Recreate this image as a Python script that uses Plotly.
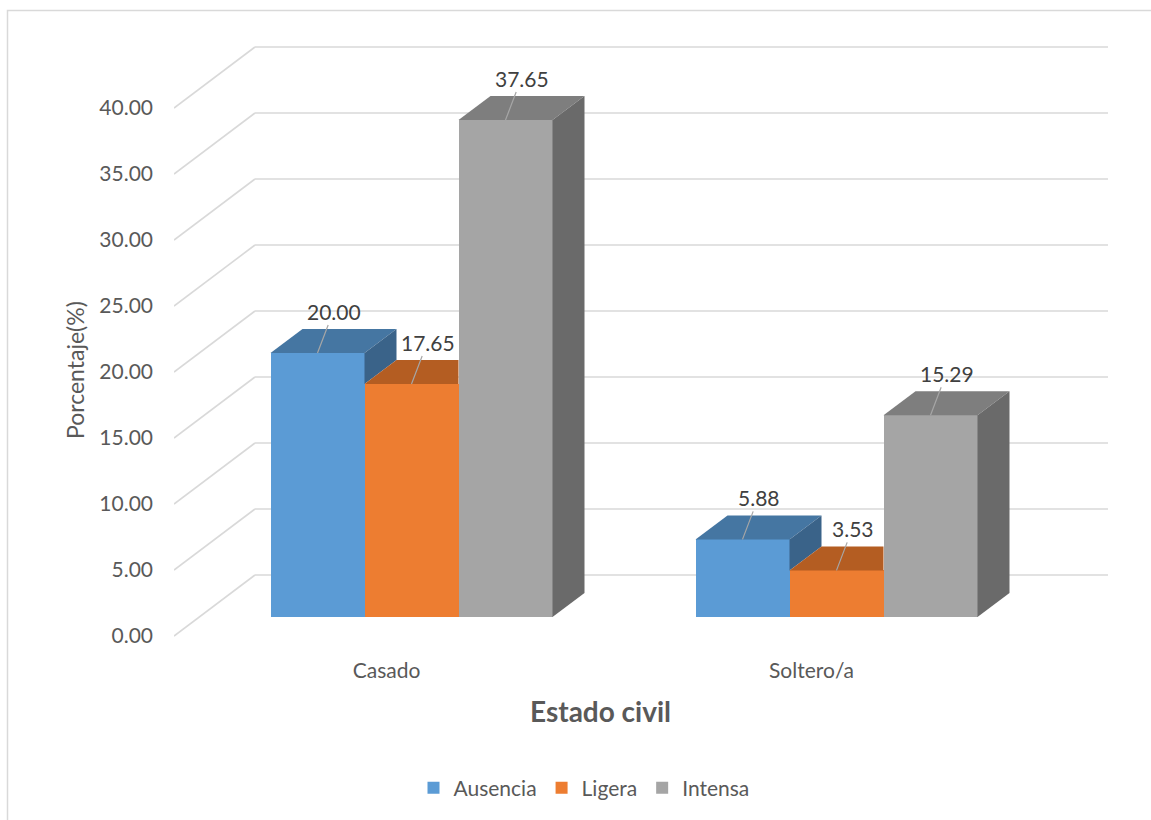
import plotly.graph_objects as go

# ---- data -------------------------------------------------------------
categories = ["Casado", "Soltero/a"]
series_names = ["Ausencia", "Ligera", "Intensa"]
ausencia = [20.00, 5.88]
ligera = [17.65, 3.53]
intensa = [37.65, 15.29]
y_ticks = [0, 5, 10, 15, 20, 25, 30, 35, 40]

series_values = [ausencia, ligera, intensa]

# ---- styling ----------------------------------------------------------
front_colors = ["#5B9BD5", "#ED7D31", "#A5A5A5"]
top_colors = ["#4576A2", "#B45D22", "#7E7E7E"]
side_colors = ["#3A6389", "#9E521E", "#6A6A6A"]
grid_color = "#D9D9D9"
text_color = "#595959"
label_color = "#404040"
FONT = "Lato"

W, H = 1151, 820
M_L, M_R, M_T, M_B = 174, 43, 42, 164
plot_w = W - M_L - M_R
plot_h = H - M_T - M_B

X_PX = 425.0   # pixels per category step
Y_PX = 13.2    # pixels per percentage point
x_min = -0.5
x_max = x_min + plot_w / X_PX
y_max = 45.0
y_min = y_max - plot_h / Y_PX


def dx(px):
    return px / X_PX


def dy(px):
    return px / Y_PX


def paper_x(px):
    return (px - M_L) / plot_w


def paper_y(py):
    return (H - M_B - py) / plot_h


# oblique projection of the depth axis
WALL_DX, WALL_DY = dx(81), dy(61)      # full floor depth
BAR_SHIFT_X, BASE = dx(25), dy(19)     # front face of the bars
BAR_DX, BAR_DY = dx(32), dy(24)        # bar thickness
BAR_W = dx(94)

fig = go.Figure()

# ---- front faces ------------------------------------------------------
bar_geom = []  # (left x, right x) per series per category
for i, (name, vals) in enumerate(zip(series_names, series_values)):
    xs = [c + BAR_SHIFT_X + (i - 1) * BAR_W for c in range(len(categories))]
    bar_geom.append([(x - BAR_W / 2, x + BAR_W / 2) for x in xs])
    fig.add_trace(go.Bar(
        x=xs, y=vals, base=BASE, width=BAR_W, name=name,
        marker=dict(color=front_colors[i], line=dict(width=0)),
        hoverinfo="skip",
    ))


def add_face(xs, ys, color):
    fig.add_trace(go.Scatter(
        x=xs + [xs[0]], y=ys + [ys[0]], mode="lines", fill="toself",
        fillcolor=color, line=dict(width=0, color=color),
        showlegend=False, hoverinfo="skip",
    ))


# ---- top and side faces (left to right, hidden parts trimmed) ----------
n_series = len(series_values)
for c in range(len(categories)):
    for i in range(n_series):
        v = series_values[i][c]
        xl, xr = bar_geom[i][c]
        t = BASE + v
        nxt = series_values[i + 1][c] if i + 1 < n_series else None

        # top face
        if nxt is not None and nxt > v:
            add_face([xl, xr, xr, xl + BAR_DX],
                     [t, t, t + BAR_DY, t + BAR_DY], top_colors[i])
        else:
            add_face([xl, xr, xr + BAR_DX, xl + BAR_DX],
                     [t, t, t + BAR_DY, t + BAR_DY], top_colors[i])

        # right side face
        if nxt is None:
            bottom = BASE
        elif nxt < v:
            bottom = BASE + nxt
        else:
            bottom = None
        if bottom is not None:
            add_face([xr, xr + BAR_DX, xr + BAR_DX, xr],
                     [t, t + BAR_DY, bottom + BAR_DY, bottom], side_colors[i])

# ---- gridlines on side wall and back wall ----------------------------
shapes = []
for v in y_ticks:
    shapes.append(dict(type="line", xref="x", yref="y", layer="below",
                       x0=x_min, y0=v, x1=x_min + WALL_DX, y1=v + WALL_DY,
                       line=dict(color=grid_color, width=1.6)))
    shapes.append(dict(type="line", xref="x", yref="y", layer="below",
                       x0=x_min + WALL_DX, y0=v + WALL_DY, x1=x_max, y1=v + WALL_DY,
                       line=dict(color=grid_color, width=1.6)))

# chart frame
shapes.append(dict(type="rect", xref="paper", yref="paper", layer="below",
                   x0=paper_x(7.5), y0=paper_y(830), x1=paper_x(1170), y1=paper_y(10.5),
                   line=dict(color=grid_color, width=1.5), fillcolor="rgba(0,0,0,0)"))

# ---- data labels with leader lines ------------------------------------
annotations = []
for i, vals in enumerate(series_values):
    for c, v in enumerate(vals):
        xl, xr = bar_geom[i][c]
        annotations.append(dict(
            x=(xl + xr) / 2, y=BASE + v, xref="x", yref="y",
            text=f"{v:.2f}", showarrow=True, arrowhead=0,
            arrowwidth=1.2, arrowcolor="#A6A6A6",
            ax=16, ay=-42, standoff=0,
            font=dict(family=FONT, size=21, color=label_color),
        ))

# axis titles
annotations.append(dict(
    text="Porcentaje(%)", xref="paper", yref="paper",
    x=paper_x(75), y=paper_y(370), xanchor="center", yanchor="middle",
    textangle=-90, showarrow=False,
    font=dict(family=FONT, size=23, color=text_color),
))
annotations.append(dict(
    text="<b>Estado civil</b>", xref="paper", yref="paper",
    x=paper_x(600), y=paper_y(711), xanchor="center", yanchor="middle",
    showarrow=False,
    font=dict(family=FONT, size=28, color=text_color),
))

fig.update_layout(
    width=W, height=H, autosize=False,
    margin=dict(l=M_L, r=M_R, t=M_T, b=M_B, pad=0),
    paper_bgcolor="white", plot_bgcolor="white",
    barmode="overlay", bargap=0,
    shapes=shapes, annotations=annotations,
    font=dict(family=FONT, color=text_color),
    xaxis=dict(
        range=[x_min, x_max], tickmode="array",
        tickvals=list(range(len(categories))), ticktext=categories,
        showgrid=False, zeroline=False, showline=False, ticks="",
        tickfont=dict(family=FONT, size=21, color=text_color),
        fixedrange=True,
    ),
    yaxis=dict(
        range=[y_min, y_max], tickmode="array",
        tickvals=y_ticks, ticktext=[f"{v:.2f}" for v in y_ticks],
        showgrid=False, zeroline=False, showline=False, ticks="",
        ticklabelstandoff=20,
        tickfont=dict(family=FONT, size=21, color=text_color),
        fixedrange=True,
    ),
    legend=dict(
        orientation="h", xanchor="center", yanchor="middle",
        x=paper_x(584), y=paper_y(788),
        font=dict(family=FONT, size=21, color=text_color),
        itemwidth=30, traceorder="normal",
    ),
    showlegend=True,
)

fig.write_html("out.html", config={"displayModeBar": False})
